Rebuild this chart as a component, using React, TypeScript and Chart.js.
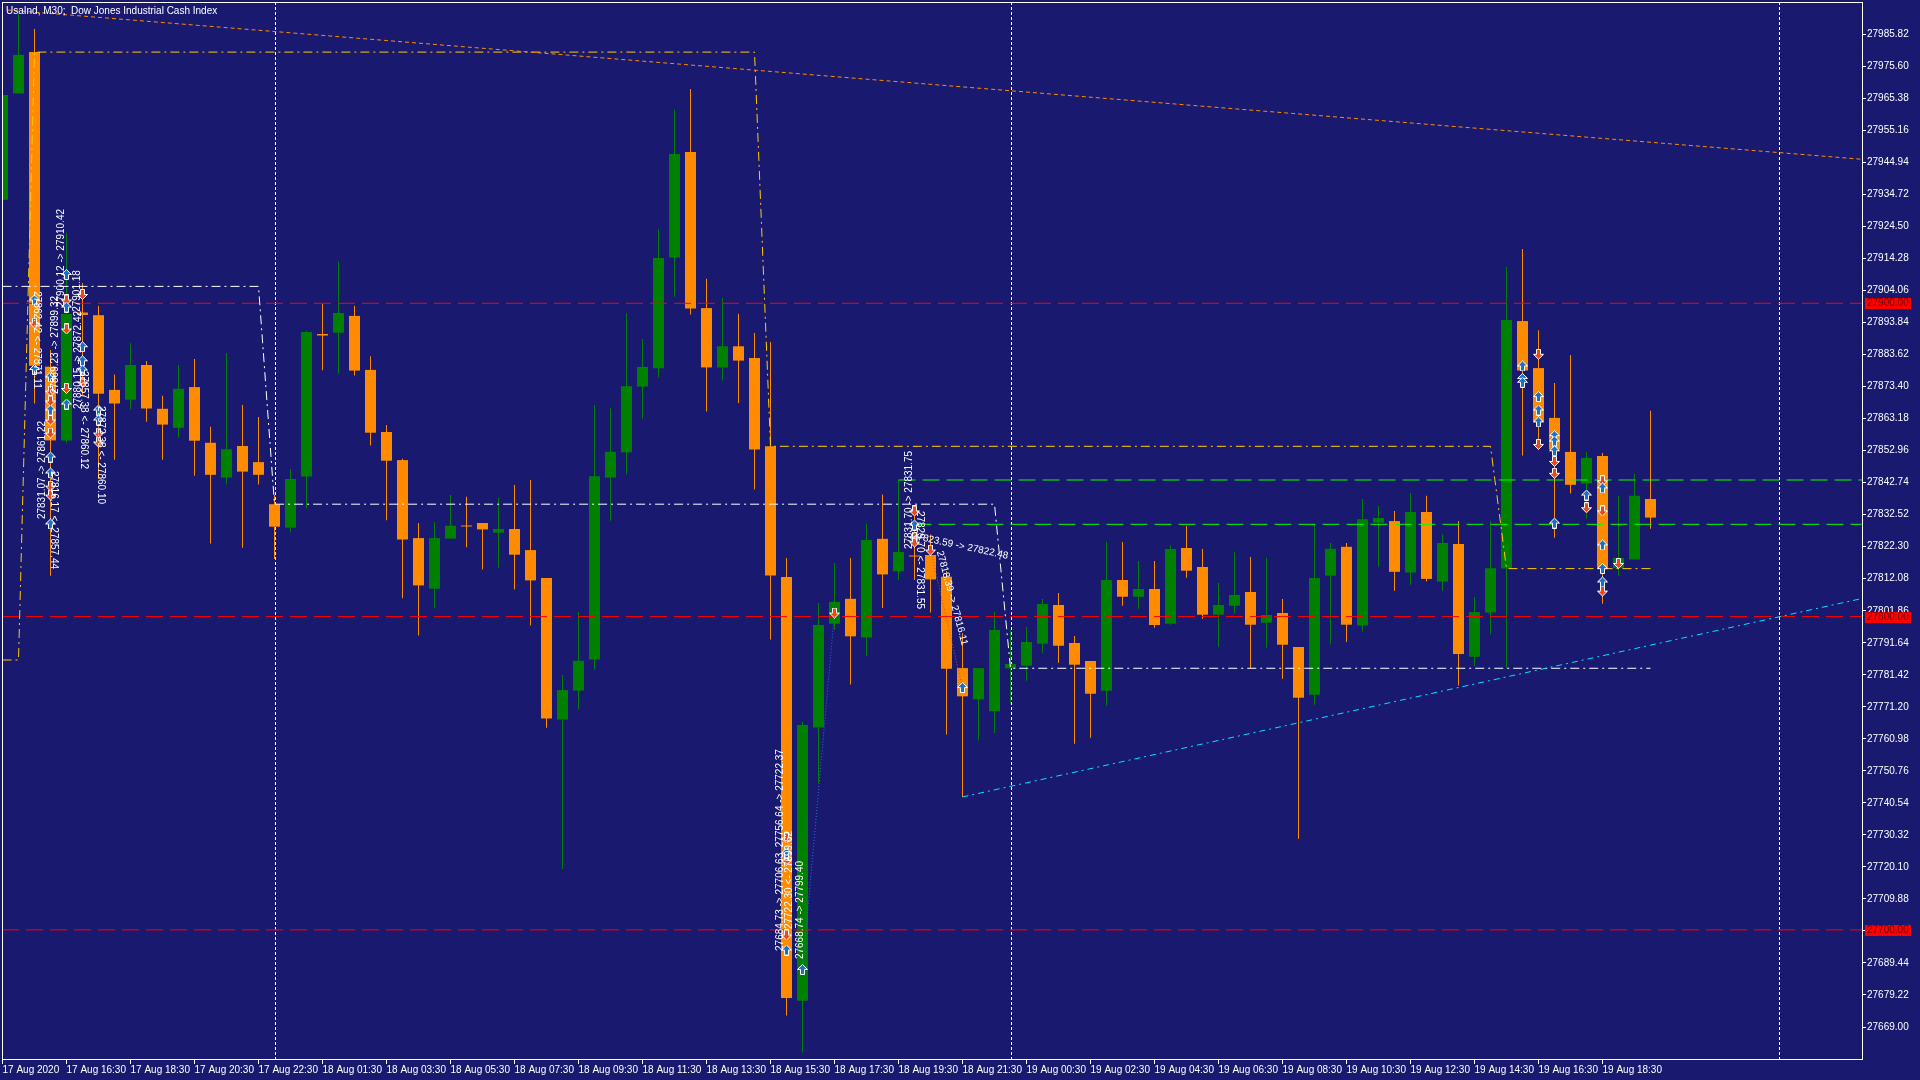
import React, { useEffect, useRef } from 'react';
import { Chart, registerables } from 'chart.js';
Chart.register(...registerables);

const BG = '#191970';
const BULL = '#008000';
const BEAR = '#FF8C00';

const opens = [
  27933.03, 27966.96, 27980.17, 27879.76, 27856.23, 27897.05, 27896.19, 27872.35, 27869.22, 27880.30,
  27866.32, 27860.25, 27873.24, 27855.47, 27844.36, 27854.44, 27849.30, 27835.87, 27828.37, 27844.71,
  27890.19, 27890.61, 27895.97, 27878.73, 27858.91, 27849.94, 27825.05, 27808.90, 27824.89, 27829.07,
  27829.87, 27826.77, 27827.95, 27821.22, 27812.28, 27767.15, 27776.37, 27786.33, 27844.36, 27852.43,
  27873.40, 27879.24, 27914.58, 27948.28, 27898.46, 27879.50, 27886.27, 27882.50, 27854.35, 27812.66,
  27677.42, 27764.59, 27797.70, 27805.67, 27793.32, 27824.82, 27814.45, 27819.49, 27819.65, 27812.73,
  27783.55, 27773.56, 27769.77, 27783.49, 27784.32, 27791.34, 27803.69, 27791.57, 27785.82, 27776.34,
  27811.67, 27806.34, 27808.80, 27797.73, 27821.89, 27815.82, 27800.60, 27803.47, 27807.84, 27798.04,
  27801.14, 27790.29, 27775.06, 27813.05, 27822.27, 27797.15, 27829.96, 27830.47, 27814.07, 27833.38,
  27811.16, 27823.13, 27787.16, 27801.30, 27815.31, 27894.31, 27879.31, 27863.41, 27852.56, 27842.44,
  27851.29, 27815.44, 27818.22, 27837.53,
];
const highs = [
  27968.50, 27992.33, 27987.54, 27885.12, 27922.53, 27906.47, 27899.13, 27877.30, 27887.26, 27881.54,
  27870.47, 27880.30, 27882.21, 27860.60, 27884.13, 27867.53, 27863.73, 27838.80, 27847.07, 27891.20,
  27899.90, 27913.33, 27899.13, 27883.11, 27861.15, 27850.39, 27829.87, 27830.16, 27838.80, 27838.23,
  27829.87, 27837.91, 27842.03, 27843.62, 27812.28, 27781.35, 27801.43, 27867.53, 27866.64, 27896.83,
  27888.63, 27923.64, 27961.75, 27968.36, 27907.84, 27901.65, 27896.64, 27890.48, 27887.67, 27818.66,
  27766.38, 27804.30, 27817.07, 27818.66, 27829.61, 27839.00, 27843.59, 27834.02, 27826.23, 27814.55,
  27794.72, 27783.55, 27801.49, 27795.71, 27796.67, 27805.61, 27807.52, 27793.80, 27785.82, 27823.80,
  27823.80, 27817.74, 27817.74, 27822.85, 27828.91, 27821.57, 27810.72, 27820.61, 27819.01, 27818.70,
  27805.61, 27790.29, 27829.55, 27823.52, 27823.52, 27837.53, 27835.26, 27833.73, 27839.41, 27838.55,
  27826.29, 27830.47, 27806.21, 27830.47, 27911.61, 27917.29, 27891.41, 27874.52, 27883.46, 27852.56,
  27852.18, 27838.55, 27845.48, 27865.68,
];
const lows = [
  27930.00, 27966.96, 27868.01, 27813.05, 27855.50, 27870.72, 27843.91, 27850.07, 27866.10, 27862.17,
  27850.07, 27857.13, 27844.93, 27823.32, 27842.12, 27821.98, 27842.12, 27818.38, 27826.90, 27834.53,
  27878.64, 27877.52, 27876.95, 27854.57, 27830.73, 27805.83, 27793.96, 27802.61, 27824.89, 27822.11,
  27815.06, 27815.63, 27808.61, 27797.18, 27764.50, 27719.43, 27770.37, 27783.11, 27830.60, 27845.41,
  27863.13, 27876.31, 27902.10, 27896.38, 27865.49, 27875.32, 27868.14, 27840.59, 27792.71, 27672.64,
  27660.86, 27746.85, 27795.71, 27778.35, 27787.32, 27802.70, 27811.67, 27811.67, 27801.30, 27762.39,
  27742.44, 27760.41, 27762.81, 27772.26, 27779.53, 27788.47, 27785.28, 27759.42, 27761.34, 27771.55,
  27803.47, 27802.51, 27796.45, 27797.41, 27812.41, 27799.32, 27790.38, 27800.92, 27783.59, 27790.07,
  27780.17, 27729.10, 27771.87, 27791.09, 27791.85, 27795.24, 27815.95, 27808.26, 27810.14, 27811.16,
  27808.26, 27777.97, 27784.25, 27794.38, 27783.52, 27851.41, 27853.30, 27825.15, 27839.28, 27831.21,
  27804.08, 27813.05, 27818.22, 27828.05,
];
const closes = [
  27966.51, 27979.28, 27880.07, 27856.23, 27896.54, 27896.26, 27871.14, 27868.01, 27880.30, 27866.41,
  27861.28, 27872.70, 27856.14, 27845.25, 27853.42, 27846.27, 27845.25, 27828.69, 27843.91, 27890.83,
  27889.71, 27896.89, 27878.51, 27858.69, 27849.75, 27824.60, 27809.95, 27825.05, 27828.97, 27828.75,
  27827.82, 27827.95, 27819.75, 27811.55, 27767.44, 27776.53, 27785.89, 27844.81, 27852.59, 27873.53,
  27879.69, 27914.42, 27947.68, 27898.30, 27879.53, 27886.27, 27881.70, 27853.36, 27813.08, 27678.22,
  27765.39, 27797.31, 27804.68, 27793.70, 27824.44, 27813.46, 27820.64, 27819.17, 27811.86, 27783.36,
  27774.55, 27783.55, 27795.71, 27784.86, 27791.88, 27804.01, 27790.70, 27784.64, 27775.38, 27811.67,
  27806.34, 27808.80, 27797.31, 27821.57, 27814.64, 27800.60, 27803.69, 27806.89, 27797.41, 27800.50,
  27791.02, 27774.11, 27812.31, 27821.63, 27797.41, 27831.08, 27831.46, 27814.29, 27833.38, 27812.02,
  27823.52, 27788.05, 27801.43, 27815.44, 27894.69, 27878.54, 27862.14, 27853.30, 27842.06, 27850.65,
  27815.44, 27818.73, 27838.55, 27831.59,
];

const timeTickBars = [0, 4, 8, 12, 16, 20, 24, 28, 32, 36, 40, 44, 48, 52, 56, 60, 64, 68, 72, 76, 80, 84, 88, 92, 96, 100];
const timeLabels = [
  '17 Aug 2020', '17 Aug 16:30', '17 Aug 18:30', '17 Aug 20:30', '17 Aug 22:30', '18 Aug 01:30',
  '18 Aug 03:30', '18 Aug 05:30', '18 Aug 07:30', '18 Aug 09:30', '18 Aug 11:30', '18 Aug 13:30',
  '18 Aug 15:30', '18 Aug 17:30', '18 Aug 19:30', '18 Aug 21:30', '19 Aug 00:30', '19 Aug 02:30',
  '19 Aug 04:30', '19 Aug 06:30', '19 Aug 08:30', '19 Aug 10:30', '19 Aug 12:30', '19 Aug 14:30',
  '19 Aug 16:30', '19 Aug 18:30',
];
const priceTicks = [
  27985.82, 27975.60, 27965.38, 27955.16, 27944.94, 27934.72, 27924.50, 27914.28, 27904.06, 27893.84,
  27883.62, 27873.40, 27863.18, 27852.96, 27842.74, 27832.52, 27822.30, 27812.08, 27801.86, 27791.64,
  27781.42, 27771.20, 27760.98, 27750.76, 27740.54, 27730.32, 27720.10, 27709.88, 27699.66, 27689.44,
  27679.22, 27669.00,
];

const levelPrices = [27900, 27800, 27700];
const separatorBars = [17, 63, 111];
const greenLevelPrices = [27843.59, 27829.45];
const greenLevelStartBars = [56, 57];

const yellowStartBars = [0, 2, 48, 94];
const yellowValues = [27786.14, 27980.17, 27854.35, 27815.31];
const whiteStartBars = [0, 17, 63];
const whiteValues = [27905.39, 27835.87, 27783.5];
const lastBar = 103;

const orangeTrendBars = [0.3, 116.22];
const orangeTrendPrices = [27993.6, 27945.96];
const cyanTrendBars = [60, 116.22];
const cyanTrendPrices = [27742.44, 27805.77];

const buyBars = [2, 2, 3, 3, 3, 3, 3, 4, 4, 4, 5, 5, 5, 6, 6, 49, 49, 50, 57, 60, 95, 95, 95, 96, 96, 96, 97, 97, 97, 97, 99, 100, 100, 100, 100];
const buyPrices = [
  27901.05, 27878.86, 27876.47, 27865.93, 27850.93, 27845.83, 27829.55, 27909.18, 27898.81, 27867.85,
  27886.14, 27881.64, 27878.70, 27865.93, 27862.74, 27724.54, 27693.58, 27687.39, 27829.23, 27777.36,
  27879.98, 27876.02, 27874.78, 27870.21, 27865.93, 27862.14, 27857.73, 27856.04, 27852.91, 27829.84,
  27838.80, 27841.07, 27822.88, 27815.31, 27811.04,
];
const sellBars = [2, 3, 3, 3, 3, 3, 3, 4, 4, 4, 5, 5, 6, 6, 49, 49, 49, 52, 57, 57, 57, 58, 96, 96, 97, 97, 99, 100, 100, 100, 101];
const sellPrices = [
  27893.70, 27872.00, 27868.81, 27862.74, 27858.59, 27841.67, 27838.80, 27901.05, 27891.79, 27872.80,
  27902.80, 27874.87, 27858.59, 27855.72, 27729.33, 27722.30, 27698.37, 27801.14, 27833.70, 27825.40,
  27823.80, 27821.25, 27883.71, 27854.96, 27849.53, 27845.73, 27834.75, 27843.34, 27833.73, 27808.13,
  27816.97,
];

const tradeBlueBars = [50, 52];
const tradeBluePrices = [27687.39, 27801.14];
const tradeRedBars = [57, 58, 60];
const tradeRedPrices = [27825.40, 27821.25, 27777.36];

const noteTexts = [
  '27900.12 -> 27910.42', '27869.23 -> 27899.32', '27831.07 -> 27861.22', '27862.42 <- 27871.11',
  '27901.18', '27880.15 -> 27872.42', '27857.38 <- 27860.12', '27872.38 <- 27860.10',
  '27816.17 <- 27857.44', '27684.73 -> 27706.63  27756.64 -> 27722.37', '27722.30 <- 27699.62',
  '27668.74 -> 27799.40', '27831.70 -> 27831.75', '27829.70 <- 27831.55', '27823.59 -> 27822.48',
  '27818.39 -> 27816.11',
];
const noteBars = [3.66, 3.29, 2.48, 2.16, 4.66, 4.73, 5.1, 6.16, 3.23, 48.6, 49.16, 49.85, 56.66, 57.35, 59.85, 59.35];
const notePrices = [
  27914.45, 27886.68, 27846.78, 27888.28, 27903.92, 27881.89, 27862.74, 27851.57, 27830.83,
  27725.49, 27715.92, 27706.34, 27837.21, 27818.06, 27822.53, 27805.93,
];
const noteAngles = [-90, -90, -90, 90, -90, -90, 90, 90, 90, -90, -90, -90, -90, 90, 12, 75];

const titleText = 'UsaInd, M30;  Dow Jones Industrial Cash Index';
const FONT = "'Liberation Sans', Arial, sans-serif";

const X_MIN = -0.03125;
const X_MAX = 116.21875;
const Y_MIN = 27658.79;
const Y_MAX = 27996.16;

function makeArrow(up: boolean, fill: string) {
  const c = document.createElement('canvas');
  c.width = 11;
  c.height = 11;
  const g = c.getContext('2d')!;
  const P = [[5.5, 0.5], [10.5, 5.5], [7.5, 5.5], [7.5, 10.5], [3.5, 10.5], [3.5, 5.5], [0.5, 5.5]];
  g.beginPath();
  P.forEach(([x, y], i) => {
    const yy = up ? y : 11 - y;
    if (i === 0) g.moveTo(x, yy);
    else g.lineTo(x, yy);
  });
  g.closePath();
  g.fillStyle = fill;
  g.fill();
  g.strokeStyle = '#ffffff';
  g.lineWidth = 1;
  g.stroke();
  return c;
}

function stepPoints(starts: number[], values: number[]) {
  const pts: { x: number; y: number }[] = [];
  starts.forEach((s, i) => {
    const e = i + 1 < starts.length ? starts[i + 1] - 1 : lastBar;
    pts.push({ x: s, y: values[i] });
    if (e > s) pts.push({ x: e, y: values[i] });
  });
  return pts;
}

const zeroPad = (s: any) => {
  s.paddingTop = 0;
  s.paddingBottom = 0;
  s.paddingLeft = 0;
  s.paddingRight = 0;
};

export default function App() {
  const ref = useRef<HTMLCanvasElement>(null);

  useEffect(() => {
    const canvas = ref.current!;
    const buyImg = makeArrow(true, '#1C6FC4');
    const sellImg = makeArrow(false, '#E8481C');

    const colors = opens.map((o, i) => (closes[i] >= o ? BULL : BEAR));
    const bodyData = opens.map((o, i) => ({ x: i, y: [o, closes[i]] }));
    const wickData = opens.map((_, i) => ({ x: i, y: [lows[i], highs[i]] }));

    const lineBase = { type: 'line', pointRadius: 0, borderWidth: 1, tension: 0, fill: false };

    const datasets: any[] = [
      { type: 'bar', data: wickData, backgroundColor: colors, barThickness: 1, grouped: false, inflateAmount: 0, order: 100 },
      { type: 'bar', data: bodyData, backgroundColor: colors, barThickness: 11, grouped: false, inflateAmount: 0, minBarLength: 1, order: 99 },
      ...levelPrices.map((p) => ({ ...lineBase, data: [{ x: X_MIN, y: p }, { x: X_MAX, y: p }], borderColor: '#FF0000', borderDash: [17, 7], order: 50 })),
      ...greenLevelPrices.map((p, i) => ({ ...lineBase, data: [{ x: greenLevelStartBars[i], y: p }, { x: X_MAX, y: p }], borderColor: '#00FF00', borderDash: [17, 7], order: 49 })),
      { ...lineBase, data: stepPoints(yellowStartBars, yellowValues), borderColor: '#FFCC00', borderDash: [9, 4, 2, 4], order: 40 },
      { ...lineBase, data: stepPoints(whiteStartBars, whiteValues), borderColor: '#FFFFFF', borderDash: [9, 4, 2, 4], order: 40 },
      { ...lineBase, data: orangeTrendBars.map((b, i) => ({ x: b, y: orangeTrendPrices[i] })), borderColor: '#FF8C00', borderDash: [4, 3], order: 39 },
      { ...lineBase, data: cyanTrendBars.map((b, i) => ({ x: b, y: cyanTrendPrices[i] })), borderColor: '#00E5FF', borderDash: [6, 4, 2, 4], order: 39 },
      { ...lineBase, data: tradeBlueBars.map((b, i) => ({ x: b, y: tradeBluePrices[i] })), borderColor: '#1E78D2', borderDash: [1, 2], order: 30 },
      { ...lineBase, data: tradeRedBars.map((b, i) => ({ x: b, y: tradeRedPrices[i] })), borderColor: '#E8481C', borderDash: [1, 2], order: 30 },
      { type: 'line', showLine: false, data: buyBars.map((b, i) => ({ x: b, y: buyPrices[i] })), pointStyle: buyImg, pointRadius: 5, order: 10 },
      { type: 'line', showLine: false, data: sellBars.map((b, i) => ({ x: b, y: sellPrices[i] })), pointStyle: sellImg, pointRadius: 5, order: 10 },
    ];

    const mtPlugin = {
      id: 'mt',
      beforeDraw(chart: any) {
        const c = chart.ctx;
        c.save();
        c.fillStyle = BG;
        c.fillRect(0, 0, chart.width, chart.height);
        c.restore();
      },
      beforeDatasetsDraw(chart: any) {
        const c = chart.ctx;
        const a = chart.chartArea;
        const xs = chart.scales.x;
        c.save();
        c.strokeStyle = '#FFFFFF';
        c.lineWidth = 1;
        c.setLineDash([3, 2]);
        separatorBars.forEach((b) => {
          const x = Math.round(xs.getPixelForValue(b)) + 0.5;
          c.beginPath();
          c.moveTo(x, a.top);
          c.lineTo(x, a.bottom);
          c.stroke();
        });
        c.restore();
      },
      afterDatasetsDraw(chart: any) {
        const c = chart.ctx;
        const a = chart.chartArea;
        const xs = chart.scales.x;
        const ys = chart.scales.y;
        c.save();
        c.beginPath();
        c.rect(a.left, a.top, a.right - a.left, a.bottom - a.top);
        c.clip();
        c.fillStyle = '#FFFFFF';
        c.font = `10px ${FONT}`;
        c.textAlign = 'center';
        c.textBaseline = 'middle';
        noteTexts.forEach((t, i) => {
          c.save();
          c.translate(xs.getPixelForValue(noteBars[i]), ys.getPixelForValue(notePrices[i]));
          c.rotate((noteAngles[i] * Math.PI) / 180);
          c.fillText(t, 0, 0);
          c.restore();
        });
        c.restore();
      },
      afterDraw(chart: any) {
        const c = chart.ctx;
        const a = chart.chartArea;
        const ys = chart.scales.y;
        c.save();
        c.strokeStyle = '#FFFFFF';
        c.lineWidth = 1;
        c.setLineDash([]);
        c.strokeRect(a.left + 0.5, a.top + 0.5, a.right - a.left, a.bottom - a.top);
        c.fillStyle = '#FFFFFF';
        c.font = `10px ${FONT}`;
        c.textAlign = 'left';
        c.textBaseline = 'alphabetic';
        c.fillText(titleText, 6, 13.5);
        levelPrices.forEach((p) => {
          const y = Math.round(ys.getPixelForValue(p));
          c.fillStyle = '#FF0000';
          c.fillRect(a.right + 3, y - 5, 46, 11);
          c.fillStyle = '#700000';
          c.textBaseline = 'middle';
          c.fillText(p.toFixed(2), a.right + 5, y + 0.5);
        });
        c.restore();
      },
    };

    const chart = new Chart(canvas, {
      type: 'bar',
      data: { datasets },
      options: {
        animation: false,
        responsive: false,
        devicePixelRatio: 1,
        events: [],
        layout: { autoPadding: false, padding: { left: 2, top: 2, right: 0, bottom: 0 } },
        plugins: { legend: { display: false }, tooltip: { enabled: false } },
        scales: {
          x: {
            type: 'linear',
            position: 'bottom',
            min: X_MIN,
            max: X_MAX,
            bounds: 'data',
            offset: false,
            grid: { display: true, offset: false, drawOnChartArea: false, drawTicks: true, tickLength: 5, color: '#FFFFFF', lineWidth: 1 },
            border: { display: false },
            afterBuildTicks: (s: any) => {
              s.ticks = timeTickBars.map((v) => ({ value: v }));
            },
            afterFit: (s: any) => {
              s.height = 21;
              zeroPad(s);
            },
            ticks: {
              autoSkip: false,
              maxRotation: 0,
              minRotation: 0,
              align: 'start',
              padding: 0,
              color: '#FFFFFF',
              font: { family: FONT, size: 10 },
              callback: (_v: any, i: number) => timeLabels[i],
            },
          },
          y: {
            type: 'linear',
            position: 'right',
            min: Y_MIN,
            max: Y_MAX,
            bounds: 'data',
            beginAtZero: false,
            grid: { display: true, drawOnChartArea: false, drawTicks: true, tickLength: 4, color: '#FFFFFF', lineWidth: 1 },
            border: { display: false },
            afterBuildTicks: (s: any) => {
              s.ticks = priceTicks.map((v) => ({ value: v }));
            },
            afterFit: (s: any) => {
              s.width = 58;
              zeroPad(s);
            },
            ticks: {
              autoSkip: false,
              padding: 1,
              color: '#FFFFFF',
              font: { family: FONT, size: 10 },
              callback: (v: any) => Number(v).toFixed(2),
            },
          },
        },
      } as any,
      plugins: [mtPlugin],
    } as any);

    return () => chart.destroy();
  }, []);

  return (
    <div style={{ position: 'fixed', left: 0, top: 0, width: 1920, height: 1080, background: BG, overflow: 'hidden' }}>
      <canvas ref={ref} width={1920} height={1080} style={{ display: 'block', width: 1920, height: 1080 }} />
    </div>
  );
}
